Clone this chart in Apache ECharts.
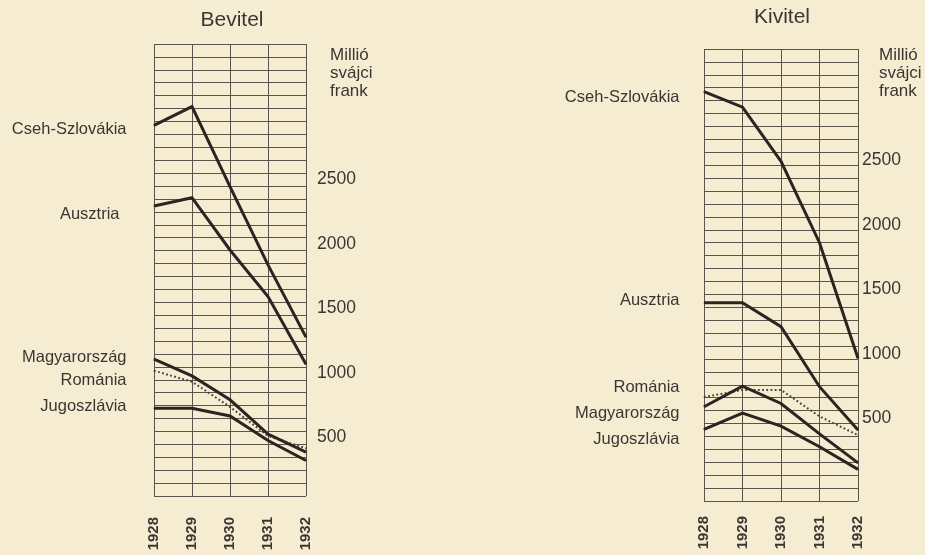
<!DOCTYPE html>
<html>
<head>
<meta charset="utf-8">
<script src="https://cdn.jsdelivr.net/npm/echarts@6/dist/echarts.min.js"></script>
<style>
  html, body { margin: 0; padding: 0; background: #f5ecd2; }
  #chart { width: 925px; height: 555px; }
</style>
</head>
<body>
<div id="chart"></div>
<script>
// évek és országok
const years = ['1928', '1929', '1930', '1931', '1932'];
const countries = ['Cseh-Szlovákia', 'Ausztria', 'Magyarország', 'Románia', 'Jugoszlávia'];
const yTickLabels = [500, 1000, 1500, 2000, 2500];

// Bevitel (millió svájci frank)
const importCseh = [2870, 3015, 2395, 1790, 1230];
const importAusztria = [2245, 2310, 1905, 1545, 1020];
const importMagyar = [1060, 930, 745, 480, 340];
const importRomania = [970, 885, 690, 465, 370];
const importJugo = [680, 680, 620, 430, 275];

// Kivitel (millió svájci frank)
const exportCseh = [3170, 3050, 2630, 2000, 1105];
const exportAusztria = [1535, 1535, 1350, 885, 550];
const exportRomania = [805, 860, 860, 655, 510];
const exportMagyar = [730, 890, 755, 520, 295];
const exportJugo = [555, 680, 580, 420, 245];

const ink = '#2b2521';
const textInk = '#3b3631';
const gridInk = '#5e534a';
const font = '"Liberation Sans", Arial, sans-serif';

// címke elhelyezés (távolság, függőleges eltolás)
const leftLabelPos = {
    'Cseh-Szlovákia': [27, 4], 'Ausztria': [34, 8], 'Magyarország': [27, -2],
    'Románia': [27, 10], 'Jugoszlávia': [27, -2]
};
const rightLabelPos = {
    'Cseh-Szlovákia': [24, 6], 'Ausztria': [24, -2], 'Magyarország': [24, 7],
    'Románia': [24, -10], 'Jugoszlávia': [24, 10]
};

function makeSeries(name, values, idx, labelPos) {
    const dotted = name === 'Románia';
    const [dist, dy] = labelPos[name];
    return {
        name: name,
        type: 'line',
        xAxisIndex: idx,
        yAxisIndex: idx,
        symbol: 'circle',
        symbolSize: 1,
        showSymbol: true,
        itemStyle: { color: dotted ? '#4a423c' : ink },
        lineStyle: dotted
            ? { color: '#4a423c', width: 2, type: [1.8, 2.4] }
            : { color: ink, width: 3, join: 'miter' },
        data: values.map((v, i) => i === 0 ? {
            value: v,
            label: {
                show: true, position: 'left', distance: dist, offset: [0, dy],
                formatter: name, color: textInk, fontSize: 16.5, fontFamily: font
            }
        } : v),
        z: dotted ? 3 : 4
    };
}

function xAxisFor(idx, margin) {
    return {
        type: 'category', gridIndex: idx, data: years, boundaryGap: false,
        axisLine: { show: false }, axisTick: { show: false },
        splitLine: { show: true, lineStyle: { color: gridInk, width: 1 } },
        axisLabel: {
            rotate: 90, margin: margin, color: textInk, fontSize: 15,
            fontWeight: 'bold', fontFamily: font, interval: 0
        }
    };
}

// a feliratok a nyomtatott ábrán kissé el vannak tolva a rácsvonalakhoz képest
function yAxisFor(idx, margin, pad) {
    return {
        type: 'value', gridIndex: idx, position: 'right',
        min: 0, max: 3500, interval: 100,
        axisLine: { show: false }, axisTick: { show: false },
        splitLine: { show: true, lineStyle: { color: gridInk, width: 1 } },
        axisLabel: {
            margin: margin,
            formatter: v => yTickLabels.includes(v) ? '{n|' + v + '}' : '',
            rich: {
                n: { color: textInk, fontSize: 17.5, fontFamily: font, padding: pad }
            }
        }
    };
}

const chart = echarts.init(document.getElementById('chart'), null, { renderer: 'canvas' });

const unitStyle = {
    text: 'Millió\nsvájci\nfrank', fill: textInk, font: '17px ' + font,
    lineHeight: 18, textVerticalAlign: 'top', verticalAlign: 'top'
};

const option = {
    backgroundColor: '#f5ecd2',
    animation: false,
    grid: [
        { left: 154, top: 44, width: 152, height: 452 },
        { left: 704, top: 49, width: 154, height: 452 }
    ],
    xAxis: [xAxisFor(0, 21), xAxisFor(1, 15)],
    yAxis: [yAxisFor(0, 11, [12, 0, 0, 0]), yAxisFor(1, 4, [0, 0, 36, 0])],
    graphic: [
        { type: 'text', x: 232, y: 20, style: { text: 'Bevitel', fill: textInk, font: '21px ' + font, textAlign: 'center', textVerticalAlign: 'middle', align: 'center', verticalAlign: 'middle' } },
        { type: 'text', x: 782, y: 17, style: { text: 'Kivitel', fill: textInk, font: '21px ' + font, textAlign: 'center', textVerticalAlign: 'middle', align: 'center', verticalAlign: 'middle' } },
        { type: 'text', x: 330, y: 46, style: unitStyle },
        { type: 'text', x: 879, y: 46, style: unitStyle }
    ],
    series: [
        makeSeries(countries[0], importCseh, 0, leftLabelPos),
        makeSeries(countries[1], importAusztria, 0, leftLabelPos),
        makeSeries(countries[2], importMagyar, 0, leftLabelPos),
        makeSeries(countries[3], importRomania, 0, leftLabelPos),
        makeSeries(countries[4], importJugo, 0, leftLabelPos),
        makeSeries(countries[0], exportCseh, 1, rightLabelPos),
        makeSeries(countries[1], exportAusztria, 1, rightLabelPos),
        makeSeries(countries[2], exportMagyar, 1, rightLabelPos),
        makeSeries(countries[3], exportRomania, 1, rightLabelPos),
        makeSeries(countries[4], exportJugo, 1, rightLabelPos)
    ]
};

chart.setOption(option);
</script>
</body>
</html>
